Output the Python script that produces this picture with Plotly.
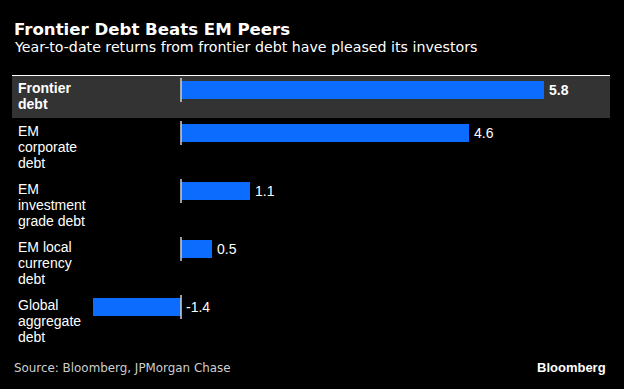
import plotly.graph_objects as go

# ---- data ----
categories = ["Frontier<br>debt", "EM<br>corporate<br>debt", "EM<br>investment<br>grade debt",
              "EM local<br>currency<br>debt", "Global<br>aggregate<br>debt"]
values = [5.8, 4.6, 1.1, 0.5, -1.4]
value_labels = ["5.8", "4.6", "1.1", "0.5", "-1.4"]
highlight = [True, False, False, False, False]

title = "Frontier Debt Beats EM Peers"
subtitle = "Year-to-date returns from frontier debt have pleased its investors"
source = "Source: Bloomberg, JPMorgan Chase"
brand = "Bloomberg"

# ---- layout constants (pixels) ----
W, H = 624, 389
ML, MR, MT = 12, 14, 75
PLOT_H = 280
MB = H - MT - PLOT_H
LINE_STEP = 15
ROW_PAD = 13
BAR_OFF = 15
BAR_W = 18
PX_PER_UNIT = 62.6
ZERO_PX = 181

BLUE = "#0b6cfd"
GRAY_ROW = "#333333"

n_lines = [c.count("<br>") + 1 for c in categories]
row_h = [LINE_STEP * n + ROW_PAD for n in n_lines]
row_top = []
acc = 0
for h in row_h:
    row_top.append(acc)
    acc += h
centers = [t + BAR_OFF for t in row_top]

plot_w = W - ML - MR
xmin = -(ZERO_PX - ML) / PX_PER_UNIT
xmax = (plot_w - (ZERO_PX - ML)) / PX_PER_UNIT


def py(ypx):
    """convert absolute pixel y to paper coordinate"""
    return (MT + PLOT_H - ypx) / PLOT_H


def px(xpx):
    return (xpx - ML) / plot_w


fig = go.Figure()
fig.add_trace(go.Bar(
    y=centers, x=values, orientation="h", width=BAR_W,
    marker=dict(color=BLUE, line=dict(width=0)),
    hoverinfo="skip", showlegend=False,
))

shapes = []
for i, hl in enumerate(highlight):
    if hl:
        shapes.append(dict(type="rect", xref="paper", yref="y", x0=0, x1=1,
                           y0=row_top[i], y1=row_top[i] + row_h[i],
                           fillcolor=GRAY_ROW, line=dict(width=0), layer="below"))
shapes.append(dict(type="line", xref="paper", yref="y", x0=0, x1=1, y0=0, y1=0,
                   line=dict(color="#ffffff", width=2)))
for c in centers:
    shapes.append(dict(type="line", xref="x", yref="y", x0=0, x1=0,
                       y0=c - 12, y1=c + 12, line=dict(color="#d0d0d0", width=1.5)))

annotations = []
FONT = "Liberation Sans, Arial, sans-serif"
for i, cat in enumerate(categories):
    for j, line in enumerate(cat.split("<br>")):
        txt = f"<b>{line}</b>" if highlight[i] else line
        annotations.append(dict(
            xref="paper", yref="y", x=0, y=row_top[i] + 12.5 + 16.2 * j,
            xanchor="left", yanchor="middle", xshift=4, text=txt, showarrow=False,
            font=dict(family=FONT, size=14, color="#ffffff")))
    vtxt = f"<b>{value_labels[i]}</b>" if highlight[i] else value_labels[i]
    annotations.append(dict(
        xref="x", yref="y", x=max(values[i], 0), y=centers[i],
        xanchor="left", yanchor="middle", xshift=3, text=vtxt, showarrow=False,
        font=dict(family=FONT, size=14, color="#ffffff")))

annotations += [
    dict(xref="paper", yref="paper", x=px(12), y=py(29.5), xanchor="left", yanchor="middle",
         text=f"<b>{title}</b>", showarrow=False,
         font=dict(family="DejaVu Sans, sans-serif", size=16.6, color="#ffffff")),
    dict(xref="paper", yref="paper", x=px(12), y=py(47.5), xanchor="left", yanchor="middle",
         text=subtitle, showarrow=False,
         font=dict(family="DejaVu Sans, sans-serif", size=14.2, color="#ffffff")),
    dict(xref="paper", yref="paper", x=px(12), y=py(368), xanchor="left", yanchor="middle",
         text=source, showarrow=False,
         font=dict(family="DejaVu Sans, sans-serif", size=11.9, color="#cfcfcf")),
    dict(xref="paper", yref="paper", x=px(608), y=py(367), xanchor="right", yanchor="middle",
         text=f"<b>{brand}</b>", showarrow=False,
         font=dict(family=FONT, size=13, color="#ffffff")),
]

fig.update_layout(
    width=W, height=H,
    margin=dict(l=ML, r=MR, t=MT, b=MB, pad=0),
    paper_bgcolor="#000000", plot_bgcolor="rgba(0,0,0,0)",
    xaxis=dict(range=[xmin, xmax], visible=False, fixedrange=True),
    yaxis=dict(range=[PLOT_H, 0], visible=False, fixedrange=True),
    shapes=shapes, annotations=annotations,
    bargap=0, showlegend=False,
)

fig.write_html("out.html", config={"displayModeBar": False},
               post_script="document.body.style.margin='0';document.body.style.background='#000';")
